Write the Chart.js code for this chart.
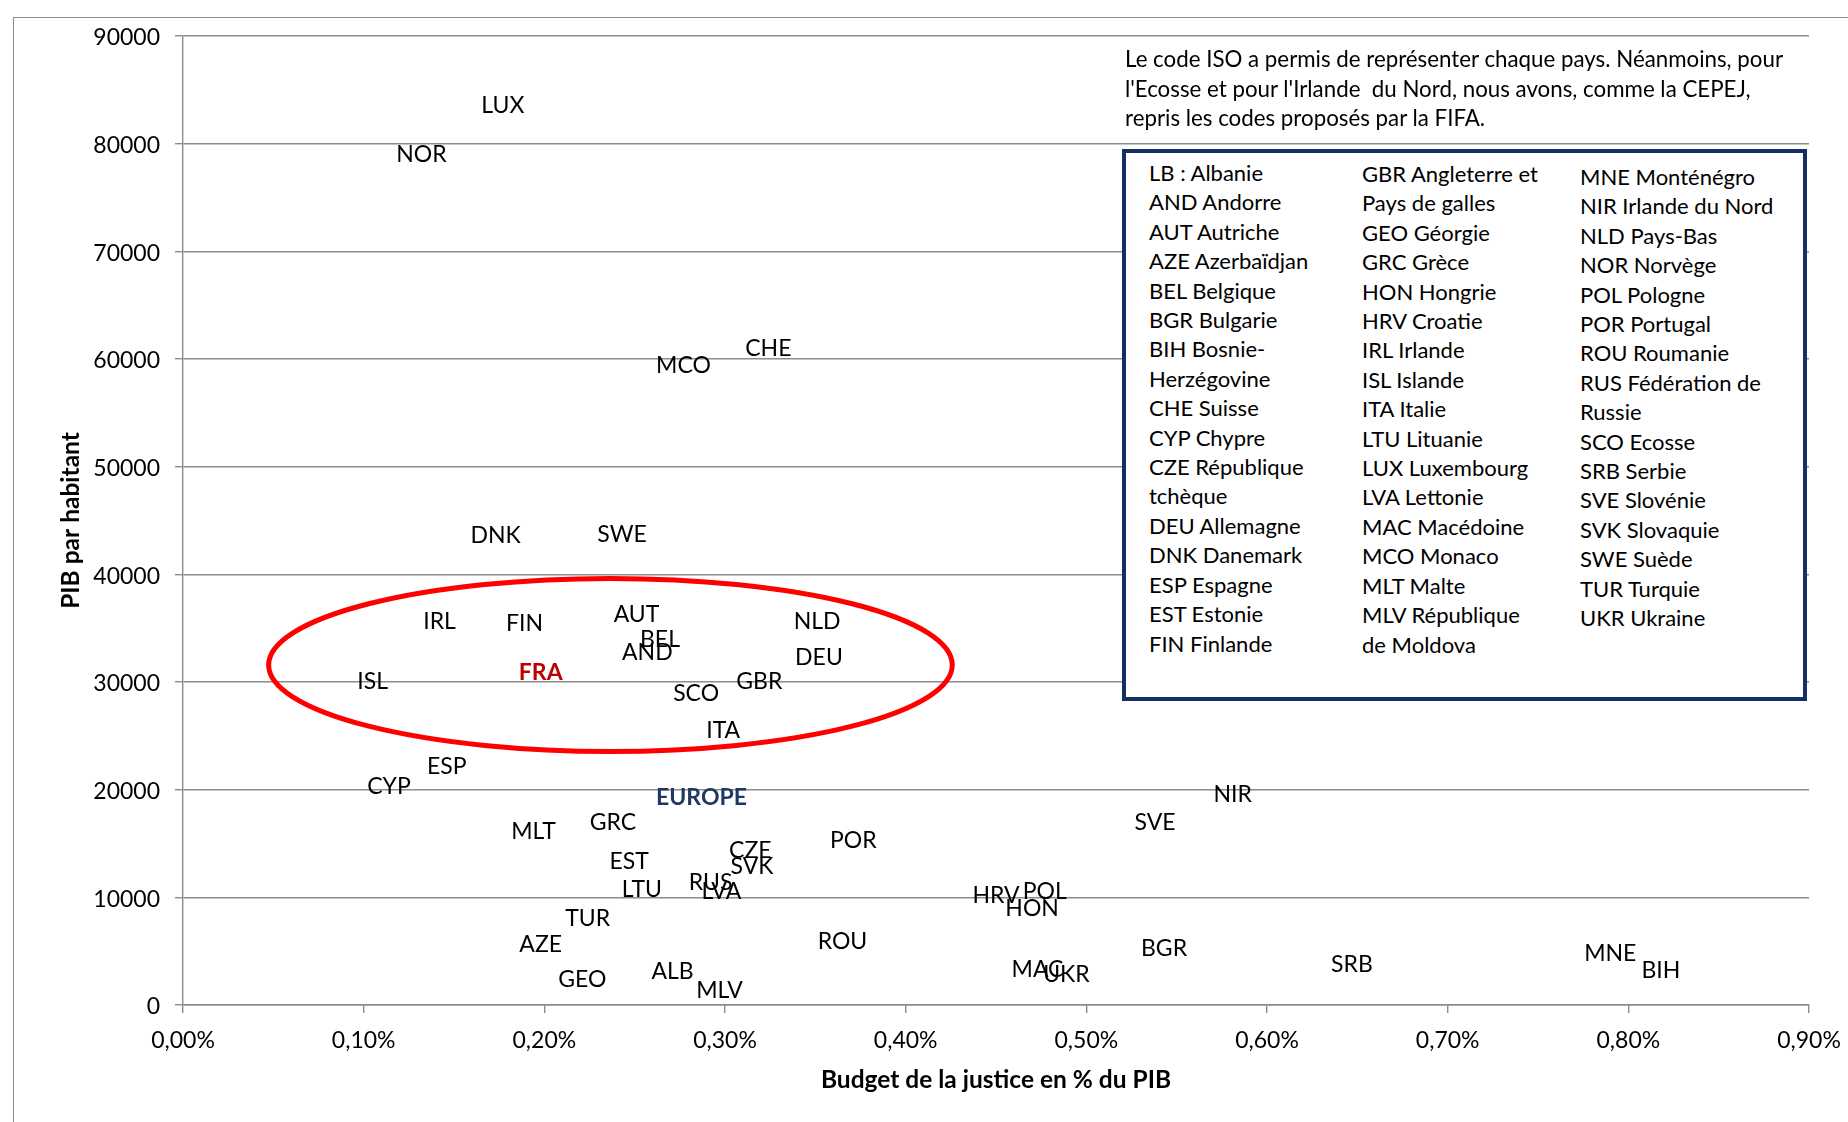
<!DOCTYPE html>
<html lang="fr">
<head>
<meta charset="utf-8">
<title>PIB par habitant et budget de la justice</title>
<script src="https://cdn.jsdelivr.net/npm/chart.js@4.4.1/dist/chart.umd.min.js"></script>
<style>
    html, body { margin: 0; padding: 0; background: #fff; }
    #wrap { position: relative; width: 1848px; height: 1122px; overflow: hidden; font-family: Lato, 'Open Sans', sans-serif; }
    #frame { position: absolute; left: 13px; top: 17px; width: 1900px; height: 1200px; border: 1.5px solid #8c8c8c; }
    #chart { position: absolute; left: 0; top: 0; }
    #note { position: absolute; left: 1125px; top: 44px; font-size: 22.3px; line-height: 29.5px; color: #000; white-space: pre; }
    #legendBox { position: absolute; left: 1122px; top: 149px; width: 677px; height: 544px; border: 4px solid #142f66; background: #fff; }
    .col { position: absolute; font-size: 22px; line-height: 29.4px; color: #000; white-space: pre; }
</style>
</head>
<body>
<div id="wrap">
    <div id="frame"></div>
    <canvas id="chart" width="1848" height="1122"></canvas>
    <div id="note"></div>
    <div id="legendBox">
        <div class="col" id="col1" style="left:23px; top:5px;"></div>
        <div class="col" id="col2" style="left:236px; top:6px;"></div>
        <div class="col" id="col3" style="left:454px; top:9px;"></div>
    </div>
</div>
<script>
// Country codes with justice budget (% of GDP) and GDP per inhabitant
const codes = ['LUX', 'NOR', 'CHE', 'MCO', 'DNK', 'SWE', 'IRL', 'FIN', 'AUT', 'NLD', 'BEL', 'AND',
    'DEU', 'ISL', 'FRA', 'SCO', 'GBR', 'ITA', 'ESP', 'CYP', 'EUROPE', 'NIR', 'SVE', 'MLT', 'GRC',
    'POR', 'CZE', 'SVK', 'EST', 'LTU', 'RUS', 'LVA', 'HRV', 'POL', 'HON', 'TUR', 'ROU', 'AZE',
    'BGR', 'MNE', 'SRB', 'BIH', 'ALB', 'MAC', 'UKR', 'GEO', 'MLV'];
const budgetPct = [0.177, 0.132, 0.324, 0.277, 0.173, 0.243, 0.142, 0.189, 0.251, 0.351, 0.264, 0.257,
    0.352, 0.105, 0.198, 0.284, 0.319, 0.299, 0.146, 0.114, 0.287, 0.581, 0.538, 0.194, 0.238,
    0.371, 0.314, 0.315, 0.247, 0.254, 0.292, 0.298, 0.450, 0.477, 0.470, 0.224, 0.365, 0.198,
    0.543, 0.790, 0.647, 0.818, 0.271, 0.473, 0.489, 0.221, 0.297];
const pibHab = [83600, 79100, 61100, 59500, 43700, 43800, 35700, 35500, 36400, 35700, 34000, 32800,
    32400, 30100, 31000, 29000, 30100, 25600, 22200, 20400, 19400, 19600, 17000, 16200, 17000,
    15400, 14400, 13000, 13400, 10800, 11500, 10600, 10300, 10600, 9100, 8100, 6000, 5700,
    5300, 4900, 3900, 3300, 3200, 3400, 2900, 2500, 1400];

// Axis ticks
const xTicks = [0, 0.1, 0.2, 0.3, 0.4, 0.5, 0.6, 0.7, 0.8, 0.9];
const yTicks = [0, 10000, 20000, 30000, 40000, 50000, 60000, 70000, 80000, 90000];

// Highlighted group (red ellipse), in data units
const ellipseCenter = [0.2366, 31580];
const ellipseRadius = [0.1892, 8040];

// Explanatory note and code list
const noteLines = [
    'Le code ISO a permis de représenter chaque pays. Néanmoins, pour',
    "l'Ecosse et pour l'Irlande  du Nord, nous avons, comme la CEPEJ,",
    'repris les codes proposés par la FIFA.'
];
const legendCol1 = ['LB : Albanie', 'AND Andorre', 'AUT Autriche', 'AZE Azerbaïdjan', 'BEL Belgique',
    'BGR Bulgarie', 'BIH Bosnie-', 'Herzégovine', 'CHE Suisse', 'CYP Chypre', 'CZE République',
    'tchèque', 'DEU Allemagne', 'DNK Danemark', 'ESP Espagne', 'EST Estonie', 'FIN Finlande'];
const legendCol2 = ['GBR Angleterre et', 'Pays de galles', 'GEO Géorgie', 'GRC Grèce', 'HON Hongrie',
    'HRV Croatie', 'IRL Irlande', 'ISL Islande', 'ITA Italie', 'LTU Lituanie', 'LUX Luxembourg',
    'LVA Lettonie', 'MAC Macédoine', 'MCO Monaco', 'MLT Malte', 'MLV République', 'de Moldova'];
const legendCol3 = ['MNE Monténégro', 'NIR Irlande du Nord', 'NLD Pays-Bas', 'NOR Norvège', 'POL Pologne',
    'POR Portugal', 'ROU Roumanie', 'RUS Fédération de', 'Russie', 'SCO Ecosse', 'SRB Serbie',
    'SVE Slovénie', 'SVK Slovaquie', 'SWE Suède', 'TUR Turquie', 'UKR Ukraine'];

document.getElementById('note').textContent = noteLines.join('\n');
document.getElementById('col1').textContent = legendCol1.join('\n');
document.getElementById('col2').textContent = legendCol2.join('\n');
document.getElementById('col3').textContent = legendCol3.join('\n');

const FONT = 'Lato';
const GRID = '#8c8c8c';

// Country code drawn in place of each marker, caps centred on the point
const codeLabels = {
    id: 'codeLabels',
    afterDatasetsDraw(chart) {
        const ctx = chart.ctx;
        const meta = chart.getDatasetMeta(0);
        ctx.save();
        ctx.textAlign = 'center';
        ctx.textBaseline = 'alphabetic';
        meta.data.forEach((pt, i) => {
            const code = codes[i];
            if (code === 'FRA') {
                ctx.font = 'bold 23px ' + FONT;
                ctx.fillStyle = '#c00000';
            } else if (code === 'EUROPE') {
                ctx.font = 'bold 23px ' + FONT;
                ctx.fillStyle = '#1f3864';
            } else {
                ctx.font = '23px ' + FONT;
                ctx.fillStyle = '#000';
            }
            const asc = ctx.measureText('H').actualBoundingBoxAscent || 16;
            ctx.fillText(code, pt.x, pt.y + asc / 2);
        });
        ctx.restore();
    }
};

// Red ellipse round the cluster
const groupEllipse = {
    id: 'groupEllipse',
    afterDatasetsDraw(chart) {
        const xs = chart.scales.x, ys = chart.scales.y;
        const cx = xs.getPixelForValue(ellipseCenter[0]);
        const cy = ys.getPixelForValue(ellipseCenter[1]);
        const rx = xs.getPixelForValue(ellipseCenter[0] + ellipseRadius[0]) - cx;
        const ry = cy - ys.getPixelForValue(ellipseCenter[1] + ellipseRadius[1]);
        const ctx = chart.ctx;
        ctx.save();
        ctx.beginPath();
        ctx.ellipse(cx, cy, rx, ry, 0, 0, Math.PI * 2);
        ctx.strokeStyle = '#ff0000';
        ctx.lineWidth = 5;
        ctx.stroke();
        ctx.restore();
    }
};

new Chart(document.getElementById('chart'), {
    type: 'scatter',
    data: {
        datasets: [{
            label: 'Pays',
            data: codes.map((c, i) => ({ x: budgetPct[i], y: pibHab[i] })),
            pointRadius: 0,
            pointHoverRadius: 0
        }]
    },
    options: {
        responsive: false,
        animation: false,
        devicePixelRatio: 1,
        layout: { padding: { top: 36, right: 39, left: 0, bottom: 0 } },
        plugins: { legend: { display: false }, tooltip: { enabled: false } },
        scales: {
            x: {
                type: 'linear',
                min: xTicks[0],
                max: xTicks[xTicks.length - 1],
                afterBuildTicks: s => { s.ticks = xTicks.map(v => ({ value: v })); },
                afterFit: s => { s.height = 117; s.paddingLeft = 0; s.paddingRight = 0; },
                grid: { drawOnChartArea: false, drawTicks: true, tickLength: 8, color: GRID, lineWidth: 1.4 },
                border: { color: GRID, width: 1.4 },
                ticks: {
                    color: '#000',
                    font: { family: FONT, size: 23 },
                    padding: 14,
                    maxRotation: 0,
                    callback: v => v.toFixed(2).replace('.', ',') + '%'
                },
                title: {
                    display: true,
                    text: 'Budget de la justice en % du PIB',
                    color: '#000',
                    font: { family: FONT, size: 24.5, weight: 'bold' },
                    padding: { top: 0, bottom: 27.5 }
                }
            },
            y: {
                type: 'linear',
                min: yTicks[0],
                max: yTicks[yTicks.length - 1],
                afterBuildTicks: s => { s.ticks = yTicks.map(v => ({ value: v })); },
                afterFit: s => { s.width = 183; },
                grid: { color: GRID, lineWidth: 1.4, tickLength: 8 },
                border: { color: GRID, width: 1.4 },
                ticks: {
                    color: '#000',
                    font: { family: FONT, size: 23 },
                    padding: 15,
                    labelOffset: 2,
                    callback: v => String(v)
                },
                title: {
                    display: true,
                    text: 'PIB par habitant',
                    color: '#000',
                    font: { family: FONT, size: 24.5, weight: 'bold' },
                    padding: { top: 56.5, bottom: 0 }
                }
            }
        }
    },
    plugins: [codeLabels, groupEllipse]
});
</script>
</body>
</html>
